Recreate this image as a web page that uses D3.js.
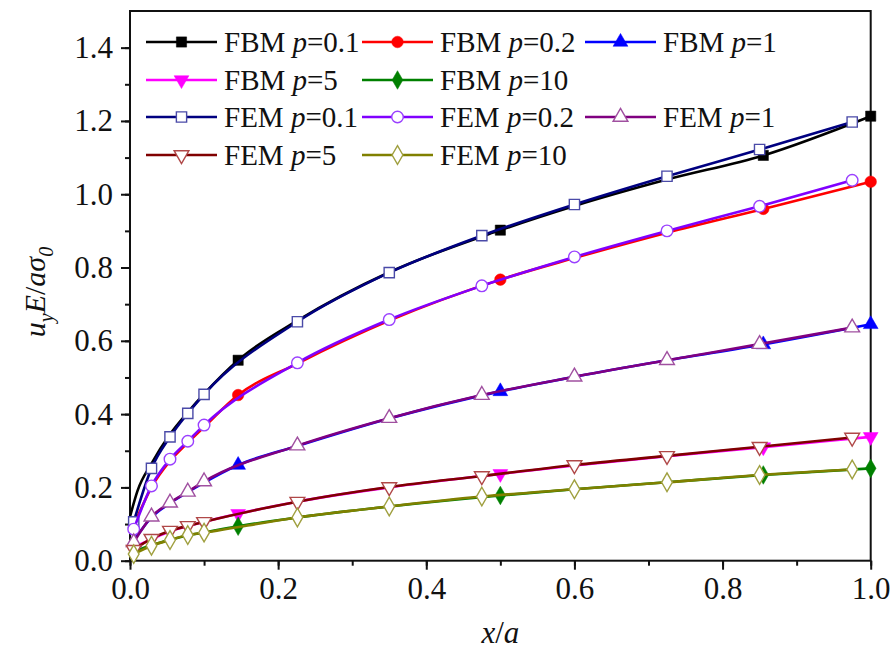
<!DOCTYPE html>
<html>
<head>
<meta charset="utf-8">
<script src="https://cdn.jsdelivr.net/npm/d3@7"></script>
<style>
  body { margin: 0; background: #fff; }
  svg text { font-family: "Liberation Serif", "Times New Roman", serif; fill: #111; }
</style>
</head>
<body>
<svg id="chart" width="895" height="652"></svg>
<script>
// x positions of the FBM curve samples and FEM nodes
var fbmX = [0, 0.01, 0.029, 0.054, 0.078, 0.1, 0.146, 0.226, 0.35, 0.5, 0.6, 0.725, 0.855, 1.0];
var fbmMarkIdx = [6, 9, 12, 13];
var femX = [0.005, 0.029, 0.054, 0.078, 0.1, 0.226, 0.35, 0.475, 0.6, 0.725, 0.85, 0.975];

var fbm01 = [0.12, 0.19, 0.265, 0.345, 0.405, 0.455, 0.547, 0.655, 0.787, 0.902, 0.968, 1.040, 1.106, 1.213];
var fbm02 = [0.075, 0.12, 0.20, 0.272, 0.322, 0.365, 0.452, 0.538, 0.655, 0.767, 0.826, 0.895, 0.96, 1.034];
var fbm1  = [0.045, 0.07, 0.118, 0.157, 0.187, 0.213, 0.261, 0.313, 0.388, 0.462, 0.502, 0.547, 0.59, 0.645];
var fbm5  = [0.025, 0.04, 0.058, 0.08, 0.094, 0.106, 0.128, 0.161, 0.20, 0.237, 0.26, 0.285, 0.31, 0.338];
var fbm10 = [0.015, 0.028, 0.042, 0.057, 0.069, 0.077, 0.094, 0.118, 0.148, 0.178, 0.195, 0.214, 0.234, 0.252];

var fem01 = [0.106, 0.252, 0.338, 0.402, 0.454, 0.652, 0.786, 0.887, 0.972, 1.049, 1.122, 1.197];
var fem02 = [0.086, 0.204, 0.277, 0.326, 0.370, 0.540, 0.658, 0.750, 0.829, 0.900, 0.967, 1.038];
var fem1  = [0.05, 0.12, 0.158, 0.188, 0.216, 0.314, 0.389, 0.452, 0.502, 0.547, 0.591, 0.636];
var fem5  = [0.03, 0.060, 0.082, 0.095, 0.106, 0.161, 0.201, 0.231, 0.261, 0.286, 0.311, 0.336];
var fem10 = [0.018, 0.041, 0.0565, 0.070, 0.0765, 0.118, 0.148, 0.175, 0.195, 0.214, 0.234, 0.249];

var xTicks = [0, 0.2, 0.4, 0.6, 0.8, 1.0];
var yTicks = [0, 0.2, 0.4, 0.6, 0.8, 1.0, 1.2, 1.4];

(function() {
var series = [
  {kind: "FBM", p: "0.1", x: fbmX, y: fbm01, line: "#000000", mark: "#000000", sym: d3.symbolSquare, fill: true},
  {kind: "FBM", p: "0.2", x: fbmX, y: fbm02, line: "#ff0000", mark: "#ff0000", sym: d3.symbolCircle, fill: true},
  {kind: "FBM", p: "1",   x: fbmX, y: fbm1,  line: "#0000ff", mark: "#0000ff", sym: d3.symbolTriangle, fill: true},
  {kind: "FBM", p: "5",   x: fbmX, y: fbm5,  line: "#ff00ff", mark: "#ff00ff", sym: "down", fill: true},
  {kind: "FBM", p: "10",  x: fbmX, y: fbm10, line: "#008000", mark: "#008000", sym: d3.symbolDiamond, fill: true},
  {kind: "FEM", p: "0.1", x: femX, y: fem01, line: "#000080", mark: "#4a4aa8", sym: d3.symbolSquare, fill: false},
  {kind: "FEM", p: "0.2", x: femX, y: fem02, line: "#8000ff", mark: "#9a40ff", sym: d3.symbolCircle, fill: false},
  {kind: "FEM", p: "1",   x: femX, y: fem1,  line: "#800080", mark: "#a050a0", sym: d3.symbolTriangle, fill: false},
  {kind: "FEM", p: "5",   x: femX, y: fem5,  line: "#800000", mark: "#b04848", sym: "down", fill: false},
  {kind: "FEM", p: "10",  x: femX, y: fem10, line: "#808000", mark: "#a0a040", sym: d3.symbolDiamond, fill: false}
];

var svg = d3.select("#chart");
var pL = 130, pT = 11, pR = 870.7, pB = 560.7;

var x = d3.scaleLinear().domain([0, 1]).range([pL, pR]);
var y = d3.scaleLinear().domain([0, 1.5]).range([pB, pT]);

// frame
svg.append("rect")
  .attr("x", pL).attr("y", pT)
  .attr("width", pR - pL).attr("height", pB - pT)
  .attr("fill", "none").attr("stroke", "#111").attr("stroke-width", 2);

// minor ticks
var minorX = d3.range(0, 11).map(function(i) { return i / 10; });
var minorY = d3.range(0, 15).map(function(i) { return i / 10; });

var xAxis = svg.append("g").attr("transform", "translate(0," + pB + ")")
  .call(d3.axisBottom(x).tickValues(xTicks).tickFormat(d3.format(".1f")).tickSize(9).tickPadding(5));
var xMinor = svg.append("g").attr("transform", "translate(0," + pB + ")")
  .call(d3.axisBottom(x).tickValues(minorX).tickFormat("").tickSize(5));
var yAxis = svg.append("g").attr("transform", "translate(" + pL + ",0)")
  .call(d3.axisLeft(y).tickValues(yTicks).tickFormat(d3.format(".1f")).tickSize(9).tickPadding(8));
var yMinor = svg.append("g").attr("transform", "translate(" + pL + ",0)")
  .call(d3.axisLeft(y).tickValues(minorY).tickFormat("").tickSize(5));

[xAxis, xMinor, yAxis, yMinor].forEach(function(g) {
  g.select(".domain").remove();
  g.selectAll("line").attr("stroke", "#111").attr("stroke-width", 2);
  g.selectAll("text").attr("font-size", 31).attr("fill", "#111")
    .style("font-family", "'Liberation Serif', serif");
});
xAxis.selectAll("text").attr("dy", "0.8em");

function symPath(s, size) {
  if (s === "down") {
    return d3.symbol().type(d3.symbolTriangle).size(size)();
  }
  return d3.symbol().type(s).size(size)();
}
function symSize(s) {
  if (s === d3.symbolSquare) return 105;
  if (s === d3.symbolCircle) return 105;
  if (s === d3.symbolDiamond) return 100;
  return 95;
}
function drawMark(g, s, cx, cy) {
  var rot = s.sym === "down" ? " rotate(180)" : "";
  g.append("path")
    .attr("d", symPath(s.sym, symSize(s.sym)))
    .attr("transform", "translate(" + cx + "," + cy + ")" + rot)
    .attr("fill", s.fill ? s.mark : "#fff")
    .attr("stroke", s.mark)
    .attr("stroke-width", s.fill ? 0.5 : 1.4);
}

var line = d3.line().curve(d3.curveMonotoneX)
  .x(function(d) { return x(d[0]); })
  .y(function(d) { return y(d[1]); });

var plot = svg.append("g");
series.forEach(function(s) {
  var pts = s.x.map(function(v, i) { return [v, s.y[i]]; });
  plot.append("path")
    .attr("d", line(pts))
    .attr("fill", "none")
    .attr("stroke", s.line)
    .attr("stroke-width", 2.6);
  var idx = s.kind === "FBM" ? fbmMarkIdx : d3.range(pts.length);
  idx.forEach(function(i) {
    drawMark(plot, s, x(pts[i][0]), y(pts[i][1]));
  });
});

// legend
var legCols = [146, 362, 585];
var legRows = [42, 80, 117, 155];
var legPos = [[0, 0], [0, 1], [0, 2], [1, 0], [1, 1], [2, 0], [2, 1], [2, 2], [3, 0], [3, 1]];
var leg = svg.append("g");
series.forEach(function(s, i) {
  var lx = legCols[legPos[i][1]], ly = legRows[legPos[i][0]];
  leg.append("line")
    .attr("x1", lx).attr("x2", lx + 71).attr("y1", ly).attr("y2", ly)
    .attr("stroke", s.line).attr("stroke-width", 2.6);
  drawMark(leg, s, lx + 35.5, ly);
  var t = leg.append("text")
    .attr("x", lx + 78).attr("y", ly + 10)
    .attr("font-size", 29);
  t.append("tspan").text(s.kind + " ");
  t.append("tspan").attr("font-style", "italic").text("p");
  t.append("tspan").text("=" + s.p);
});

// axis titles
var xt = svg.append("text")
  .attr("x", x(0.5)).attr("y", 643)
  .attr("text-anchor", "middle").attr("font-size", 31);
xt.append("tspan").attr("font-style", "italic").text("x");
xt.append("tspan").text("/");
xt.append("tspan").attr("font-style", "italic").text("a");

var yt = svg.append("text")
  .attr("transform", "translate(45,292) rotate(-90)")
  .attr("text-anchor", "middle").attr("font-size", 30);
yt.append("tspan").attr("font-style", "italic").text("u");
yt.append("tspan").attr("font-style", "italic").attr("font-size", 20).attr("dy", 8).text("y");
yt.append("tspan").attr("font-style", "italic").attr("dy", -8).text("E");
yt.append("tspan").text("/");
yt.append("tspan").attr("font-style", "italic").text("a");
yt.append("tspan").attr("font-style", "italic").text("σ");
yt.append("tspan").attr("font-style", "italic").attr("font-size", 20).attr("dy", 8).text("0");
})();
</script>
</body>
</html>
